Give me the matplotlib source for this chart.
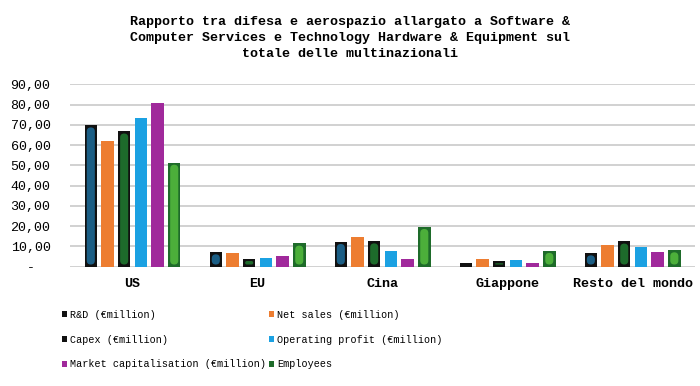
import matplotlib
matplotlib.use("Agg")
import matplotlib.pyplot as plt
import numpy as np
from matplotlib.patches import FancyBboxPatch, Patch

categories = ["US", "EU", "Cina", "Giappone", "Resto del mondo"]
series_names = ["R&D (€million)", "Net sales (€million)", "Capex (€million)",
                "Operating profit (€million)", "Market capitalisation (€million)", "Employees"]
rd = [69.8, 7.2, 12.3, 2.0, 6.7]
net_sales = [61.9, 6.7, 14.8, 3.9, 10.8]
capex = [66.8, 3.9, 12.6, 2.8, 12.5]
op_profit = [73.4, 4.3, 7.7, 3.3, 9.7]
mkt_cap = [80.8, 5.3, 3.8, 1.6, 7.2]
employees = [51.4, 11.5, 19.7, 7.9, 8.2]
yticks = [0, 10, 20, 30, 40, 50, 60, 70, 80, 90]
ytick_labels = ["-  ", "10,00", "20,00", "30,00", "40,00", "50,00", "60,00", "70,00", "80,00", "90,00"]
title = ("Rapporto tra difesa e aerospazio allargato a Software &\n"
         "Computer Services e Technology Hardware & Equipment sul\n"
         "totale delle multinazionali")

series = [rd, net_sales, capex, op_profit, mkt_cap, employees]
# (outer color, inner color or None, legend color)
styles = [("#111111", "#1b5e85", "#111111"),
          ("#ED7D31", None, "#ED7D31"),
          ("#111111", "#1d6b2b", "#111111"),
          ("#1BA1E2", None, "#1BA1E2"),
          ("#A0299B", None, "#A0299B"),
          ("#1e6b2a", "#4caf3a", "#1e6b2a")]

mono = "Liberation Mono"
fig = plt.figure(figsize=(7, 3.86), dpi=100)
ax = fig.add_axes([0.1, 0.309, 0.893, 0.4726])

x = np.arange(len(categories))
slot = 0.1335
bw = 0.1
ymax = 90
ax.set_xlim(-0.5, len(categories) - 0.5)
ax.set_ylim(0, ymax)

# pixel scales for rounded inner shapes
ax_w_px = 0.893 * 700
ax_h_px = 0.4726 * 386
px_x = ax_w_px / len(categories)
px_y = ax_h_px / ymax
aspect = px_x / px_y

for i, (vals, (outer, inner, _)) in enumerate(zip(series, styles)):
    pos = x + (i - 2.5) * slot
    ax.bar(pos, vals, width=bw, color=outer, zorder=3, linewidth=0)
    if inner is not None:
        for p, v in zip(pos, vals):
            padx = 2.2 / px_x
            pady = 2.2 / px_y
            w = bw - 2 * padx
            h = v - 2 * pady
            if h <= 0:
                continue
            r = min(w / 2, 0.05)
            r = min(r, (h / 2) / aspect)
            patch = FancyBboxPatch((p - w / 2, pady), w, h,
                                   boxstyle=f"round,pad=0,rounding_size={r}",
                                   mutation_aspect=aspect,
                                   facecolor=inner, edgecolor="none", zorder=4)
            ax.add_patch(patch)

ax.set_yticks(yticks)
ax.set_yticklabels(ytick_labels, fontfamily=mono, fontsize=9.6)
ax.set_xticks(x)
ax.set_xticklabels(categories, fontfamily=mono, fontsize=9.6, fontweight="bold")
ax.tick_params(length=0)
ax.tick_params(axis="y", pad=14)
ax.tick_params(axis="x", pad=8)
for s in ax.spines.values():
    s.set_visible(False)
ax.grid(axis="y", color="#cacaca", linewidth=1.2, zorder=0)
ax.set_axisbelow(True)

fig.text(0.5, 0.958, title, ha="center", va="top", fontfamily=mono,
         fontsize=9.6, fontweight="bold", linespacing=1.45)

handles = [Patch(facecolor=s[2], edgecolor="none") for s in styles]
order = [0, 2, 4, 1, 3, 5]
leg = fig.legend([handles[i] for i in order], [series_names[i] for i in order],
                 ncol=2, loc="upper left", bbox_to_anchor=(0.088, 0.197),
                 frameon=False, prop={"family": mono, "size": 7.3},
                 handlelength=0.55, handleheight=0.55, handletextpad=0.25,
                 columnspacing=0.3, labelspacing=1.45, borderpad=0, borderaxespad=0)

fig.savefig("out.png", dpi=100)
